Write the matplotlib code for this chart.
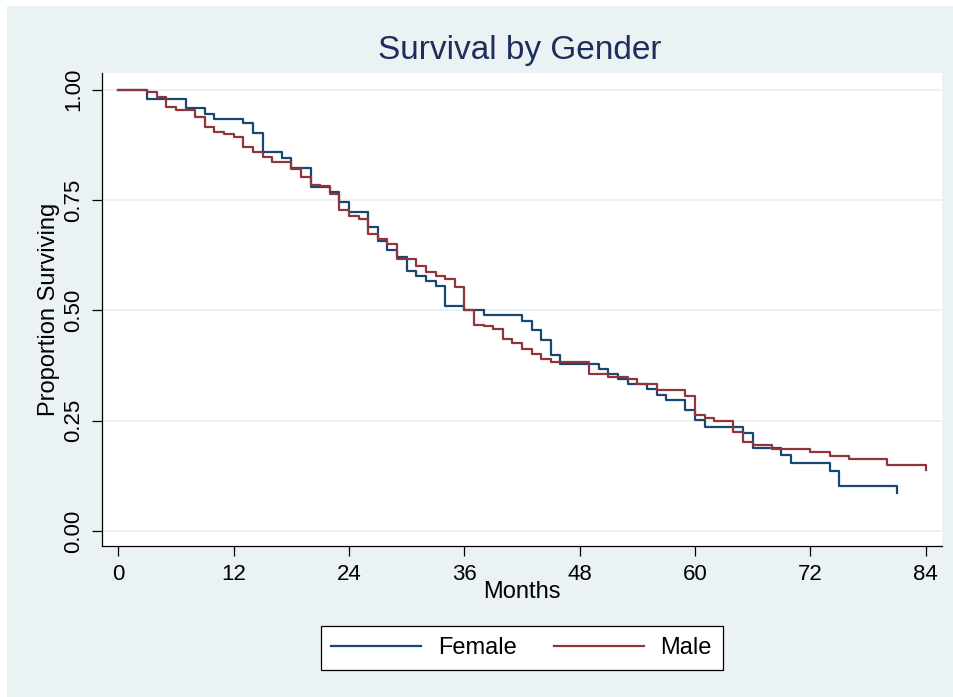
import matplotlib
matplotlib.use("Agg")
import matplotlib.pyplot as plt
from matplotlib.patches import Rectangle

plt.rcParams['font.family'] = ['Liberation Sans', 'DejaVu Sans']

# Kaplan-Meier estimates (months, proportion surviving)
female_months = [0, 3, 7, 9, 10, 13, 14, 15, 17, 18, 20, 22, 23, 24, 26, 27, 28, 29, 30,
                 31, 32, 33, 34, 36, 38, 42, 43, 44, 45, 46, 50, 51, 52, 53, 55, 56, 57,
                 59, 60, 61, 65, 66, 69, 70, 74, 75, 81]
female_surv = [1.0, 0.979, 0.958, 0.946, 0.934, 0.924, 0.902, 0.858, 0.845, 0.823, 0.779,
               0.768, 0.745, 0.722, 0.690, 0.658, 0.636, 0.621, 0.590, 0.579, 0.566, 0.555,
               0.511, 0.500, 0.489, 0.477, 0.455, 0.434, 0.400, 0.378, 0.367, 0.355, 0.344,
               0.333, 0.321, 0.309, 0.298, 0.275, 0.251, 0.236, 0.221, 0.189, 0.172, 0.155,
               0.136, 0.103, 0.086]

male_months = [0, 3, 4, 5, 6, 8, 9, 10, 11, 12, 13, 14, 15, 16, 18, 19, 20, 21, 22, 23, 24,
               25, 26, 27, 28, 29, 31, 32, 33, 34, 35, 36, 37, 38, 39, 40, 41, 42, 43, 44,
               45, 49, 51, 53, 54, 56, 59, 60, 61, 62, 64, 65, 66, 68, 72, 74, 76, 80, 84]
male_surv = [1.0, 0.994, 0.984, 0.961, 0.955, 0.939, 0.916, 0.905, 0.900, 0.894, 0.871,
             0.860, 0.848, 0.837, 0.820, 0.803, 0.785, 0.781, 0.764, 0.728, 0.713, 0.707,
             0.674, 0.661, 0.651, 0.616, 0.600, 0.588, 0.577, 0.572, 0.554, 0.502, 0.468,
             0.464, 0.458, 0.435, 0.425, 0.412, 0.402, 0.390, 0.384, 0.356, 0.350, 0.344,
             0.333, 0.320, 0.306, 0.263, 0.256, 0.249, 0.225, 0.202, 0.194, 0.186, 0.179,
             0.170, 0.163, 0.150, 0.138]

x_ticks = [0, 12, 24, 36, 48, 60, 72, 84]
y_ticks = [0.0, 0.25, 0.5, 0.75, 1.0]
y_tick_labels = ['0.00', '0.25', '0.50', '0.75', '1.00']

bg = '#eaf2f3'
navy = '#1a476f'
maroon = '#90353b'

fig = plt.figure(figsize=(9.54, 6.97), dpi=100)
fig.patch.set_facecolor('white')
# светлая подложка графика, как в схеме s2color
fig.patches.append(Rectangle((7 / 954, 0), 1, 1 - 6 / 697, transform=fig.transFigure,
                             facecolor=bg, edgecolor='none', zorder=-10))

ax = fig.add_axes([102 / 954, 1 - 546 / 697, (942 - 102) / 954, (546 - 73) / 697])
ax.set_facecolor('white')

for y in y_ticks:
    ax.axhline(y, color=bg, linewidth=1.4, zorder=1)

ax.step(female_months, female_surv, where='post', color=navy, linewidth=1.6,
        label='Female', zorder=3)
ax.step(male_months, male_surv, where='post', color=maroon, linewidth=1.6,
        label='Male', zorder=3)

ax.set_xlim(-1.7, 85.7)
ax.set_ylim(-0.034, 1.038)
ax.set_xticks(x_ticks)
ax.set_yticks(y_ticks)
ax.set_yticklabels(y_tick_labels, rotation=90, va='center')

for side in ['top', 'right']:
    ax.spines[side].set_visible(False)
for side in ['left', 'bottom']:
    ax.spines[side].set_linewidth(0.9)
ax.tick_params(axis='both', direction='out', length=7, width=0.9, labelsize=16, pad=6)

ax.set_xlabel('Months', fontsize=17, labelpad=-3)
ax.set_ylabel('Proportion Surviving', fontsize=17, labelpad=2)

fig.text(0.5446, 1 - 50 / 697, 'Survival by Gender', fontsize=24, color='#1f2d5c',
         ha='center', va='center')

leg = fig.legend(loc='center', bbox_to_anchor=(521.7 / 954, 1 - 648 / 697), ncol=2,
                 fontsize=17, frameon=True, fancybox=False, framealpha=1,
                 handlelength=3.8, handletextpad=0.7, columnspacing=1.6, borderpad=0.45)
leg.get_frame().set_edgecolor('black')
leg.get_frame().set_linewidth(0.9)
leg.get_frame().set_facecolor('white')
for line in leg.get_lines():
    line.set_linewidth(1.6)

plt.savefig('out.png', dpi=100, facecolor=fig.get_facecolor())
